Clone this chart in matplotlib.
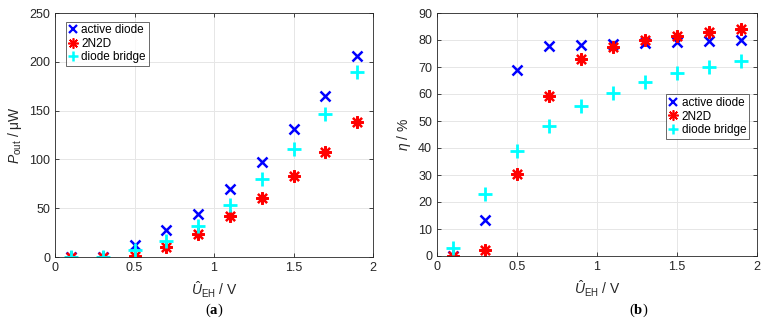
import matplotlib

matplotlib.use("Agg")

import matplotlib.pyplot as plt

plt.rcParams["font.family"] = ["Liberation Sans", "DejaVu Sans"]
plt.rcParams["mathtext.fontset"] = "custom"
plt.rcParams["mathtext.rm"] = "Liberation Sans"
plt.rcParams["mathtext.it"] = "Liberation Sans:italic"
plt.rcParams["mathtext.bf"] = "Liberation Serif:bold"

u_eh = [0.1, 0.3, 0.5, 0.7, 0.9, 1.1, 1.3, 1.5, 1.7, 1.9]

p_active = [0, 0.5, 12.7, 28, 44, 70, 97, 131, 165, 206]
p_2n2d = [0, 0, 1, 10, 24, 42, 60, 83, 108, 138]
p_bridge = [0, 0.5, 7, 16, 31.5, 53, 80, 111, 146.5, 190]

eta_active = [0, 13.3, 69, 77.6, 78.3, 78.5, 78.8, 79.3, 79.8, 80]
eta_2n2d = [0, 2.3, 30.2, 59.3, 73, 77.3, 80, 81.3, 83, 84]
eta_bridge = [3, 22.8, 38.8, 48, 55.4, 60.5, 64.5, 67.6, 70, 72.2]

labels = ["active diode", "2N2D", "diode bridge"]
ASTERISK = (8, 2, 0)


def draw(ax, series, ylim, yticks, ylabel):
    ax.plot(u_eh, series[0], linestyle="none", marker="x", color="#0000ff",
            markersize=6.5, markeredgewidth=1.8, label=labels[0])
    ax.plot(u_eh, series[1], linestyle="none", marker=ASTERISK, color="#ff0000",
            markersize=9, markeredgewidth=1.6, label=labels[1])
    ax.plot(u_eh, series[2], linestyle="none", marker="+", color="#00ffff",
            markersize=9.5, markeredgewidth=2, label=labels[2])
    ax.set_xlim(0, 2)
    ax.set_ylim(*ylim)
    ax.set_xticks([0, 0.5, 1, 1.5, 2])
    ax.set_xticklabels(["0", "0.5", "1", "1.5", "2"])
    ax.set_yticks(yticks)
    ax.grid(True, color="#e6e6e6", linewidth=0.7)
    ax.set_axisbelow(True)
    for s in ax.spines.values():
        s.set_color("#262626")
        s.set_linewidth(0.6)
    ax.tick_params(direction="in", labelsize=9, length=3, width=0.6,
                   colors="#262626", top=True, right=True, labeltop=False,
                   labelright=False)
    ax.set_xlabel(r"$\hat{U}_\mathrm{EH}$ / V", fontsize=10, color="#262626")
    ax.set_ylabel(ylabel, fontsize=10, color="#262626")


fig = plt.figure(figsize=(7.72, 3.35), dpi=100)
ax1 = fig.add_axes([55 / 772, 1 - 257 / 335, 318 / 772, 244 / 335])
ax2 = fig.add_axes([437 / 772, 1 - 256 / 335, 320 / 772, 243 / 335])

draw(ax1, [p_active, p_2n2d, p_bridge], (0, 250), range(0, 251, 50),
     r"$P_\mathrm{out}$ / μW")
draw(ax2, [eta_active, eta_2n2d, eta_bridge], (0, 90), range(0, 91, 10),
     r"$\eta$ / %")

for ax, loc, anchor in [(ax1, "upper left", (0.035, 0.965)),
                        (ax2, "upper right", (0.975, 0.665))]:
    leg = ax.legend(loc=loc, bbox_to_anchor=anchor, fontsize=8.5, frameon=True,
                    fancybox=False, borderpad=0.25, handlelength=0.7,
                    handletextpad=0.35, labelspacing=0.1, borderaxespad=0)
    leg.get_frame().set_edgecolor("#262626")
    leg.get_frame().set_linewidth(0.6)
    sizes = [6, 7.5, 7]
    widths = [1.6, 1.2, 1.8]
    for h, s, w in zip(leg.legend_handles, sizes, widths):
        h.set_markersize(s)
        h.set_markeredgewidth(w)

fig.text(214 / 772, 1 - 310 / 335, r"($\mathbf{a}$)", ha="center", va="center",
         fontsize=10.5, family="Liberation Serif")
fig.text(639 / 772, 1 - 310 / 335, r"($\mathbf{b}$)", ha="center", va="center",
         fontsize=10.5, family="Liberation Serif")

fig.savefig("out.png", dpi=100)
